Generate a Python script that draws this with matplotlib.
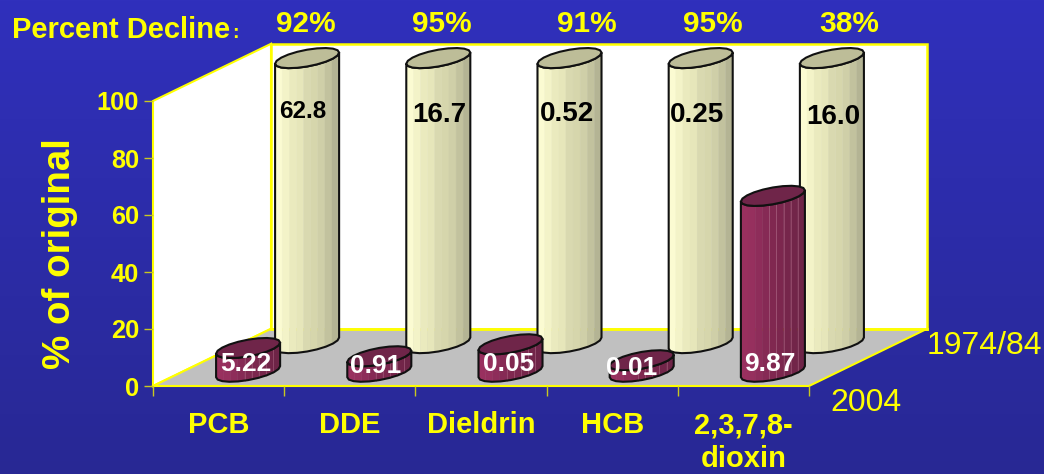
import matplotlib
matplotlib.use('Agg')
import matplotlib.pyplot as plt
import numpy as np
from matplotlib.patches import Polygon

plt.rcParams['font.family'] = ['Liberation Sans', 'DejaVu Sans']

W, H = 1044, 474

# data
categories = ['PCB', 'DDE', 'Dieldrin', 'HCB', '2,3,7,8-\ndioxin']
conc_1974 = ['62.8', '16.7', '0.52', '0.25', '16.0']
conc_2004 = ['5.22', '0.91', '0.05', '0.01', '9.87']
pct_back = [100, 100, 100, 100, 100]
pct_front = [8.3, 5.4, 9.6, 4.0, 61.7]
decline = ['92%', '95%', '91%', '95%', '38%']
series = ['2004', '1974/84']
yticks = [0, 20, 40, 60, 80, 100]

YELLOW = '#FFFF00'
CREAM = ['#FBFBD2', '#F3F3C8', '#EAEABE', '#E6E6BA', '#D9D9B0', '#D6D6AC',
         '#CFCFA8', '#C2C29E', '#B4B494']
MAROON = ['#99305F', '#96305E', '#8E2D5A', '#862A55', '#802850', '#7C274E',
          '#76264B', '#722549', '#6E2447']

# depth shear of the fake 3d box, in data units
DX = 118 / 131.2
DY = 57 / 2.84
RX = 0.244
RY = 2.95
TILT = 1.95


def proj(x, depth, val):
    return x + DX * depth, val + DY * depth


def px(x, y):
    return x / W, 1 - y / H


def ring(cx, cy, ts):
    return np.column_stack([cx + RX * np.cos(ts),
                            cy + TILT * np.cos(ts) + RY * np.sin(ts)])


def draw_bar(ax, i, depth, val, cols, top, seams=None):
    cx, y0 = proj(i + 0.5, depth, 0)
    y1 = y0 + val
    # bands of equal width across the cylinder
    edges = 2 * np.pi - np.arccos(np.linspace(-1, 1, len(cols) + 1))
    for j, c in enumerate(cols):
        ts = np.linspace(edges[j], edges[j + 1], 3)
        pts = np.vstack([ring(cx, y1, ts), ring(cx, y0, ts[::-1])])
        ax.add_patch(Polygon(pts, fc=c, ec=c, lw=0.3, clip_on=False, zorder=3 + depth * -1))
        if seams and j >= 4:
            a = ring(cx, y1, ts[:1])[0]
            b = ring(cx, y0, ts[:1])[0]
            ax.plot([a[0], b[0]], [a[1], b[1]], color=seams, lw=0.5, alpha=0.7,
                    clip_on=False, zorder=3.01 + depth * -1)
    # outline and lid, coarse facets like the original
    ts = np.linspace(np.pi, 2 * np.pi, 11)
    outline = np.vstack([ring(cx, y1, ts), ring(cx, y0, ts[::-1])])
    ax.add_patch(Polygon(outline, fc='none', ec='#111111', lw=1.5,
                         clip_on=False, zorder=3.02 + depth * -1))
    ts = np.linspace(0, 2 * np.pi, 21)
    ax.add_patch(Polygon(ring(cx, y1, ts), fc=top, ec='#111111', lw=1.5,
                         clip_on=False, zorder=3.03 + depth * -1))


fig = plt.figure(figsize=(W / 100, H / 100), dpi=100)

# background gradient
bg = fig.add_axes([0, 0, 1, 1], zorder=0)
bg.imshow(np.linspace(0, 1, 256).reshape(-1, 1),
          cmap=matplotlib.colors.LinearSegmentedColormap.from_list('bg', ['#3030BC', '#282894']),
          aspect='auto', extent=[0, 1, 0, 1])
bg.axis('off')

# axes = front plane of the box
ax = fig.add_axes([153 / W, 1 - 386 / H, 656 / W, 285 / H], zorder=1)
ax.patch.set_alpha(0)
ax.set_xlim(0, 5)
ax.set_ylim(0, 100)
for s in ['top', 'right', 'left', 'bottom']:
    ax.spines[s].set_visible(False)

# walls and floor
c = [proj(0, 0, 0), proj(5, 0, 0), proj(5, 1, 0), proj(0, 1, 0)]
ax.add_patch(Polygon(c, fc='#C0C0C0', ec='none', clip_on=False, zorder=1))
ax.add_patch(Polygon([proj(0, 1, 0), proj(5, 1, 0), proj(5, 1, 100), proj(0, 1, 100)],
                     fc='white', ec=YELLOW, lw=1.8, clip_on=False, zorder=0.9))
ax.add_patch(Polygon([proj(0, 0, 0), proj(0, 1, 0), proj(0, 1, 100), proj(0, 0, 100)],
                     fc='white', ec=YELLOW, lw=1.5, clip_on=False, zorder=0.95))
ax.plot(*zip(proj(0, 0, 0), proj(5, 0, 0), proj(5, 1, 0)), color=YELLOW, lw=1.5,
        clip_on=False, zorder=1.1)
ax.plot(*zip(proj(0, 0, 0), proj(0, 1, 0)), color=YELLOW, lw=1.5, clip_on=False, zorder=1.1)
ax.plot(*zip(proj(0, 1, 0), proj(5, 1, 0)), color=YELLOW, lw=2, clip_on=False, zorder=1.1)

# ticks
ax.set_yticks(yticks)
ax.set_xticks(range(6))
ax.set_xticklabels([])
ax.set_xticks(np.arange(5) + 0.5, categories, minor=True)
ax.tick_params(axis='y', colors=YELLOW, labelsize=18.3, length=6.5, width=1, pad=3.5, color='#C8C820')
ax.tick_params(axis='x', which='major', length=7, width=1, color='#C8C820')
ax.tick_params(axis='x', which='minor', length=0, pad=18, labelsize=21, labelcolor=YELLOW)
for t in ax.get_yticklabels() + ax.get_xticklabels(minor=True):
    t.set_fontweight('bold')
for t in ax.get_xticklabels(minor=True):
    t.set_linespacing(1.28)

# bars
for i, v in enumerate(pct_back):
    draw_bar(ax, i, 0.75, v, CREAM, '#BDBD98')
for i, v in enumerate(pct_front):
    draw_bar(ax, i, 0.25, v, MAROON, '#6F2549', seams='#B06A88')

# value labels, pixel positions
back_pos = [(303, 111, 17.5), (439, 115, 20), (567, 114, 20), (697, 115, 20), (833, 117, 20)]
front_pos = [(246, 364), (376, 366), (509, 364), (632, 368), (770, 364)]
for s, (x, y, fs) in zip(conc_1974, back_pos):
    fig.text(*px(x, y), s, color='black', fontsize=fs, fontweight='bold',
             ha='center', va='center', zorder=5)
for s, (x, y) in zip(conc_2004, front_pos):
    fig.text(*px(x, y), s, color='white', fontsize=19, fontweight='bold',
             ha='center', va='center', zorder=5)

# percent decline row
decline_x = [306, 442, 587, 713, 849]
for s, x in zip(decline, decline_x):
    fig.text(*px(x, 24), s, color=YELLOW, fontsize=21.5,
             fontweight='bold', ha='center', va='center', zorder=5)
fig.text(*px(12, 30), 'Percent Decline', color=YELLOW, fontsize=21, fontweight='bold',
         ha='left', va='center', zorder=5)
fig.text(*px(232, 33), ':', color=YELLOW, fontsize=14, fontweight='bold',
         ha='left', va='center', zorder=5)

fig.text(*px(60, 254), '% of original', color=YELLOW, fontsize=27.7, fontweight='bold',
         rotation=90, ha='center', va='center', zorder=5)

# depth axis labels
fig.text(*px(830, 403), series[0], color=YELLOW, fontsize=23, ha='left', va='center', zorder=5)
fig.text(*px(927, 346), series[1], color=YELLOW, fontsize=23, ha='left', va='center', zorder=5)

fig.savefig('out.png', dpi=100)
